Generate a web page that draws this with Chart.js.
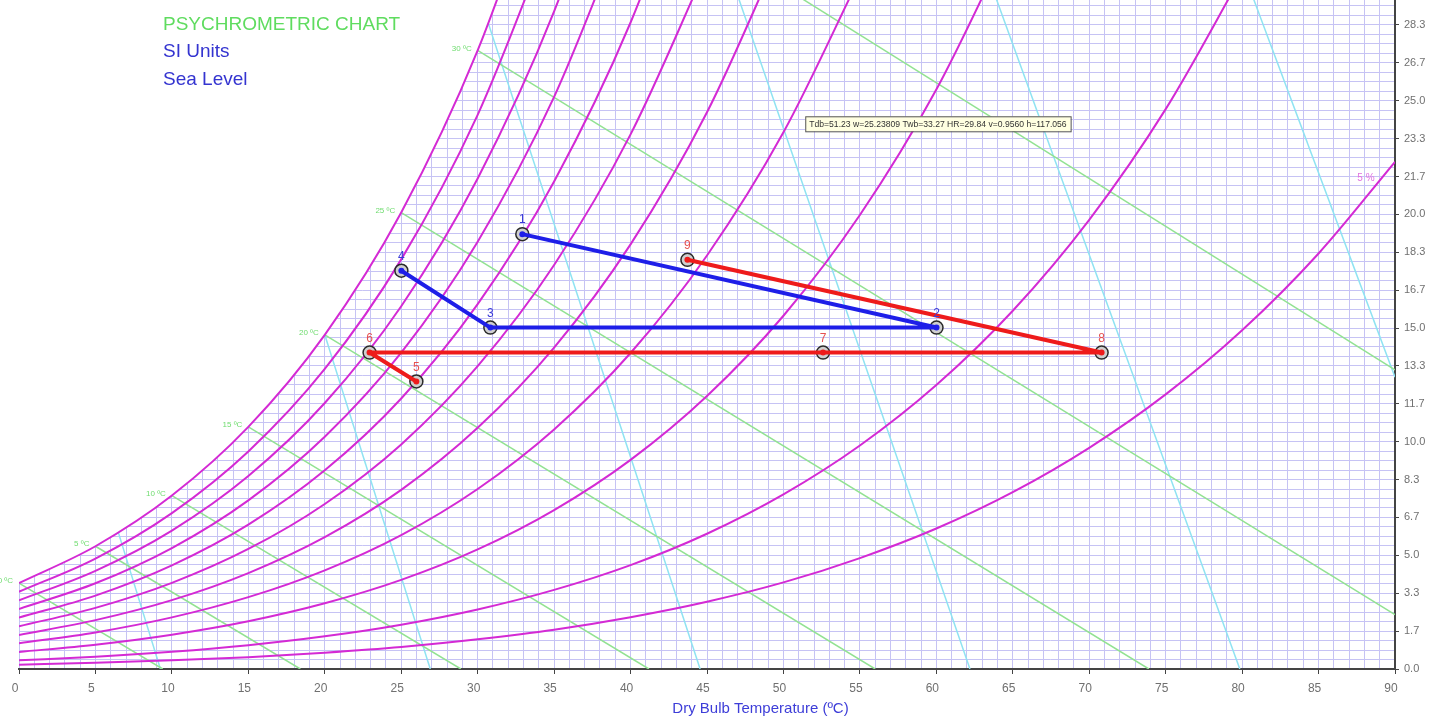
<!DOCTYPE html>
<html>
<head>
<meta charset="utf-8">
<title>Psychrometric chart</title>
<script src="https://cdn.jsdelivr.net/npm/chart.js@4"></script>
<style>
  html, body { margin: 0; padding: 0; background: #fff; }
  #wrap { width: 1450px; height: 722px; }
</style>
</head>
<body>
<div id="wrap"><canvas id="psychro" width="1450" height="722"></canvas></div>
<script>
// dry bulb temperatures (degC) where the RH curves are sampled
const rhTemps = [0, 5, 10, 15, 20, 25, 30, 35, 40, 45, 50, 55, 60, 65, 70, 75, 80, 85, 90];
// humidity ratio (g/kg) along each relative humidity curve
const rh100 = [3.78, 5.40, 7.63, 10.65, 14.70, 20.08, 27.21, 36.59];
const rh90 = [3.40, 4.86, 6.86, 9.57, 13.20, 18.02, 24.38, 32.74];
const rh80 = [3.02, 4.32, 6.09, 8.49, 11.70, 15.96, 21.58, 28.93, 38.51];
const rh70 = [2.64, 3.77, 5.32, 7.42, 10.22, 13.92, 18.80, 25.17, 33.44];
const rh60 = [2.26, 3.23, 4.56, 6.35, 8.74, 11.90, 16.05, 21.45, 28.44, 37.47];
const rh50 = [1.88, 2.69, 3.79, 5.28, 7.26, 9.88, 13.32, 17.77, 23.52, 30.91];
const rh40 = [1.50, 2.15, 3.03, 4.22, 5.80, 7.88, 10.61, 14.14, 18.68, 24.49, 31.89];
const rh30 = [1.13, 1.61, 2.27, 3.16, 4.34, 5.89, 7.92, 10.54, 13.90, 18.19, 23.61, 30.45];
const rh20 = [0.75, 1.07, 1.51, 2.10, 2.89, 3.92, 5.26, 6.99, 9.20, 12.01, 15.54, 19.97, 25.49, 32.34];
const rh10 = [0.38, 0.54, 0.76, 1.05, 1.44, 1.95, 2.62, 3.48, 4.57, 5.95, 7.68, 9.83, 12.49, 15.76, 19.76, 24.63, 30.54];
const rh5 = [0.19, 0.27, 0.38, 0.52, 0.72, 0.97, 1.31, 1.73, 2.28, 2.96, 3.81, 4.88, 6.18, 7.78, 9.73, 12.08, 14.90, 18.28, 22.31];

// wet bulb lines: start (on saturation) and end points
const wbLabels = ['0 ºC', '5 ºC', '10 ºC', '15 ºC', '20 ºC', '25 ºC', '30 ºC', ''];
const wbStartT = [0, 5, 10, 15, 20, 25, 30, 50];
const wbStartW = [3.78, 5.40, 7.63, 10.65, 14.70, 20.08, 27.21, 30.0];
const wbEndT = [9.4, 18.4, 28.9, 41.2, 56.0, 73.9, 90, 90];
const wbEndW = [0, 0, 0, 0, 0, 0, 2.39, 13.16];

// specific volume lines (0.80 ... 1.05 m3/kg)
const volStartT = [6.5, 20, 30.7, 46.3, 63.1, 79.9];
const volStartW = [6.0, 14.7, 28.4, 31, 31, 31];
const volEndT = [9.25, 26.9, 44.55, 62.2, 79.85, 90];
const volEndW = [0, 0, 0, 0, 0, 12.84];

// process states
const stateNames = ['1', '2', '3', '4', '5', '6', '7', '8', '9'];
const stateT = [32.92, 60.01, 30.83, 25.01, 25.99, 22.93, 52.59, 70.81, 43.72];
const stateW = [19.13, 15.02, 15.02, 17.52, 12.65, 13.92, 13.92, 13.92, 18.0];
const bluePath = [0, 1, 2, 3];
const redPath = [8, 7, 6, 5, 4];

// right axis labels (every 5/3 g/kg)
const humidityTicks = ['0.0', '1.7', '3.3', '5.0', '6.7', '8.3', '10.0', '11.7', '13.3', '15.0',
  '16.7', '18.3', '20.0', '21.7', '23.3', '25.0', '26.7', '28.3'];
const tempTicks = [0, 5, 10, 15, 20, 25, 30, 35, 40, 45, 50, 55, 60, 65, 70, 75, 80, 85, 90];

// cursor readout shown on the chart
const cursorTdb = 51.23;
const cursorW = 25.23809;
const cursorText = 'Tdb=51.23 w=25.23809 Twb=33.27 HR=29.84 v=0.9560 h=117.056';

const FONT = '"Liberation Sans", Arial, sans-serif';
const MAGENTA = '#d42ad4';
const GRID = '#c6c3f4';

const curve = (ws) => ws.map((w, i) => ({ x: rhTemps[i], y: w }));
const seg = (t0, w0, t1, w1) => [{ x: t0, y: w0 }, { x: t1, y: w1 }];
const path = (idx) => idx.map(i => ({ x: stateT[i], y: stateW[i] }));

const rhSets = [rh5, rh10, rh20, rh30, rh40, rh50, rh60, rh70, rh80, rh90, rh100].map((ws, k, all) => ({
  data: curve(ws),
  borderColor: MAGENTA,
  borderWidth: 2,
  cubicInterpolationMode: 'monotone',
  fill: k === all.length - 1 ? 'end' : false,
  backgroundColor: '#ffffff'
}));

const wbSets = wbStartT.map((t, i) => ({
  data: seg(t, wbStartW[i], wbEndT[i], wbEndW[i]),
  borderColor: '#92e292',
  borderWidth: 1.5
}));

const volSets = volStartT.map((t, i) => ({
  data: seg(t, volStartW[i], volEndT[i], volEndW[i]),
  borderColor: '#8fe3f2',
  borderWidth: 1.5
}));

const processSets = [
  { data: path(bluePath), borderColor: '#1e1ee8', borderWidth: 4, borderJoinStyle: 'bevel', pointRadius: 3, pointBackgroundColor: '#1e1ee8', pointBorderWidth: 0 },
  { data: path(redPath), borderColor: '#ee1b1b', borderWidth: 4, borderJoinStyle: 'bevel', pointRadius: 3, pointBackgroundColor: '#ee1b1b', pointBorderWidth: 0 },
  { data: path(stateT.map((_, i) => i)), showLine: false, pointRadius: 6.5, pointBackgroundColor: '#cfcfcf', pointBorderColor: '#2a2a2a', pointBorderWidth: 1.5 }
];

const overlay = {
  id: 'overlay',
  afterDraw(chart) {
    const { ctx, scales: { x, y } } = chart;
    ctx.save();
    ctx.textBaseline = 'middle';

    // heading
    ctx.textAlign = 'left';
    ctx.font = '19px ' + FONT;
    ctx.fillStyle = '#5fdc5f';
    ctx.fillText('PSYCHROMETRIC CHART', 163, 25);
    ctx.fillStyle = '#3434d0';
    ctx.fillText('SI Units', 163, 52);
    ctx.fillText('Sea Level', 163, 80);

    // wet bulb labels on the saturation curve
    ctx.textAlign = 'right';
    ctx.font = '8px ' + FONT;
    ctx.fillStyle = '#6fdc6f';
    wbLabels.forEach((txt, i) => {
      if (!txt) return;
      ctx.fillText(txt, x.getPixelForValue(wbStartT[i]) - 6, y.getPixelForValue(wbStartW[i]) - 2);
    });

    // RH label
    ctx.textAlign = 'center';
    ctx.font = '10px ' + FONT;
    ctx.fillStyle = '#e070e0';
    ctx.fillText('5 %', x.getPixelForValue(88.1), y.getPixelForValue(21.6));

    // state numbers
    ctx.font = '12px ' + FONT;
    stateNames.forEach((name, i) => {
      ctx.fillStyle = i < 4 ? '#3a3ad8' : '#e65050';
      ctx.fillText(name, x.getPixelForValue(stateT[i]), y.getPixelForValue(stateW[i]) - 14);
    });

    // cursor readout box
    ctx.font = '8.6px ' + FONT;
    const bx = x.getPixelForValue(cursorTdb) + 3;
    const by = y.getPixelForValue(cursorW) + 21;
    const bw = ctx.measureText(cursorText).width + 8;
    ctx.fillStyle = '#ffffe1';
    ctx.fillRect(bx, by, bw, 15);
    ctx.strokeStyle = '#555';
    ctx.lineWidth = 1;
    ctx.strokeRect(bx + 0.5, by + 0.5, bw, 15);
    ctx.fillStyle = '#333';
    ctx.textAlign = 'left';
    ctx.fillText(cursorText, bx + 4, by + 8);

    // axis title
    ctx.textAlign = 'center';
    ctx.font = '15px ' + FONT;
    ctx.fillStyle = '#3d3dd8';
    ctx.fillText('Dry Bulb Temperature (ºC)', x.getPixelForValue(48.5), 709);
    ctx.restore();
  }
};

new Chart(document.getElementById('psychro'), {
  type: 'scatter',
  data: { datasets: [...processSets, ...rhSets, ...wbSets, ...volSets] },
  options: {
    responsive: false,
    animation: false,
    events: [],
    layout: { autoPadding: false, padding: { left: 19, top: 0, right: 0, bottom: 0 } },
    elements: { point: { radius: 0 }, line: { tension: 0 } },
    datasets: { scatter: { showLine: true } },
    plugins: { legend: { display: false }, tooltip: { enabled: false } },
    scales: {
      x: {
        type: 'linear', min: 0, max: 90,
        afterBuildTicks: (s) => { s.ticks = Array.from({ length: 91 }, (_, i) => ({ value: i })); },
        afterFit: (s) => { s.height = 53; },
        border: { color: '#444', width: 2 },
        grid: {
          color: GRID, lineWidth: 1, tickLength: 5,
          tickColor: (c) => (c.tick && tempTicks.includes(c.tick.value)) ? '#444' : 'rgba(0,0,0,0)'
        },
        ticks: {
          autoSkip: false, maxRotation: 0, padding: 7, labelOffset: -4,
          color: '#707070', font: { family: FONT, size: 12 },
          callback: (v) => tempTicks.includes(v) ? String(v) : ''
        }
      },
      y: {
        type: 'linear', position: 'right', min: 0, max: 29.43,
        afterBuildTicks: (s) => { s.ticks = Array.from({ length: 71 }, (_, i) => ({ value: i * 5 / 12 })); },
        afterFit: (s) => { s.width = 55; s.paddingTop = 0; },
        border: { color: '#444', width: 2 },
        grid: {
          color: GRID, lineWidth: 1, tickLength: 4,
          tickColor: (c) => (c.index % 4 === 0) ? '#444' : 'rgba(0,0,0,0)'
        },
        ticks: {
          autoSkip: false, padding: 5,
          color: '#707070',
          font: (c) => ({ family: FONT, size: c.index % 4 === 0 ? 11 : 1 }),
          callback: (v, i) => (i % 4 === 0 && humidityTicks[i / 4]) ? humidityTicks[i / 4] : ''
        }
      }
    }
  },
  plugins: [overlay]
});
</script>
</body>
</html>
